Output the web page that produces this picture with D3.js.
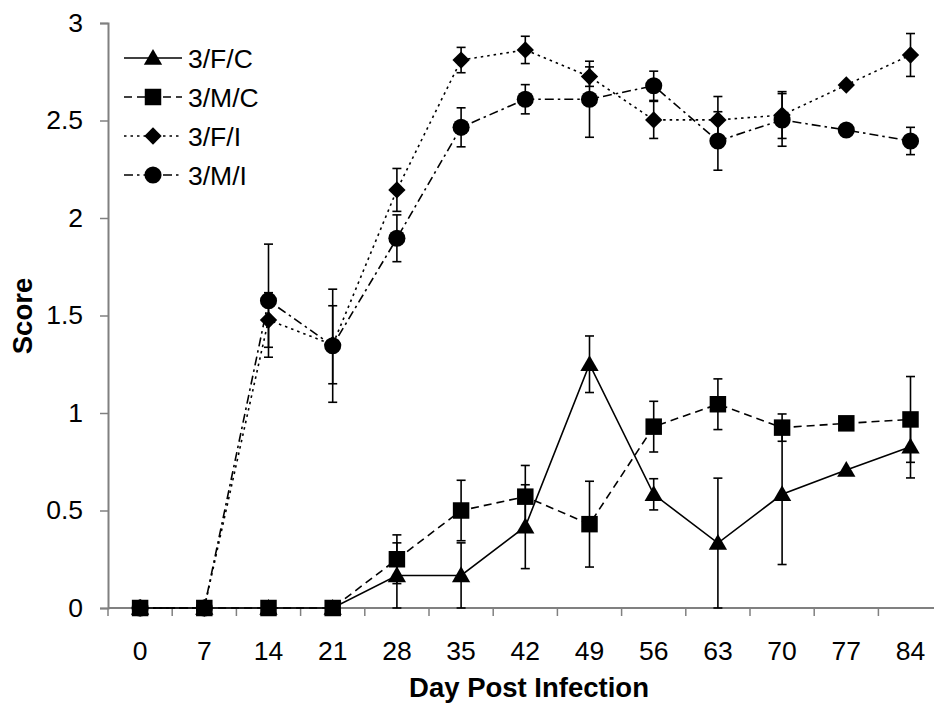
<!DOCTYPE html>
<html>
<head>
<meta charset="utf-8">
<script src="https://cdn.jsdelivr.net/npm/d3@7"></script>
<style>
  body { margin: 0; background: #fff; }
  svg { display: block; font-family: "Liberation Sans", Arial, sans-serif; }
</style>
</head>
<body>
<div id="runApp"></div>
<script>
const width = 934;
const height = 705;

// data
const days = [0, 7, 14, 21, 28, 35, 42, 49, 56, 63, 70, 77, 84];
const yTicks = [0, 0.5, 1, 1.5, 2, 2.5, 3];

const fcValues = [0, 0, 0, 0, 0.167, 0.167, 0.417, 1.25, 0.583, 0.333, 0.583, 0.708, 0.827];
const fcErrors = [0, 0, 0, 0, 0.167, 0.167, 0.215, 0.145, 0.08, 0.333, 0.36, 0, 0.16];

const mcValues = [0, 0, 0, 0, 0.25, 0.5, 0.571, 0.43, 0.93, 1.045, 0.925, 0.947, 0.967];
const mcErrors = [0, 0, 0, 0, 0.125, 0.155, 0.16, 0.22, 0.13, 0.13, 0.07, 0, 0.22];

const fiValues = [0, 0, 1.477, 1.35, 2.144, 2.81, 2.862, 2.725, 2.503, 2.503, 2.528, 2.682, 2.836];
const fiErrors = [0, 0, 0.14, 0.2, 0.11, 0.065, 0.07, 0.05, 0.095, 0.12, 0.12, 0, 0.11];

const miValues = [0, 0, 1.576, 1.345, 1.896, 2.465, 2.609, 2.609, 2.678, 2.395, 2.503, 2.451, 2.395];
const miErrors = [0, 0, 0.29, 0.29, 0.12, 0.1, 0.075, 0.195, 0.075, 0.15, 0.135, 0, 0.07];

const seriesNames = ["3/F/C", "3/M/C", "3/F/I", "3/M/I"];

const series = [
  { name: seriesNames[0], values: fcValues, errors: fcErrors, symbol: d3.symbolTriangle, size: 145, rotate: 0, dy: 1.5, dash: null },
  { name: seriesNames[1], values: mcValues, errors: mcErrors, symbol: d3.symbolSquare, size: 272, rotate: 0, dy: 0, dash: "8,5" },
  { name: seriesNames[2], values: fiValues, errors: fiErrors, symbol: d3.symbolSquare, size: 150, rotate: 45, dy: 0, dash: "2.5,4" },
  { name: seriesNames[3], values: miValues, errors: miErrors, symbol: d3.symbolCircle, size: 230, rotate: 0, dy: 0, dash: "9,4,2.5,4" },
];

// drawing order: M/C on top
const drawOrder = [2, 3, 0, 1];

const margin = { left: 108, top: 23, bottom: 608 };
const axisColor = "#808080";
const fontSize = 26.5;

const svg = d3
  .select("#runApp")
  .append("svg")
  .attr("width", width)
  .attr("height", height);

const x = d3
  .scaleBand()
  .domain(days)
  .range([margin.left, margin.left + 13 * 64.2]);

const y = d3.scaleLinear().domain([0, 3]).range([margin.bottom, margin.top]);

const cx = (d) => x(d) + x.bandwidth() / 2;

// y axis
const yAxis = svg
  .append("g")
  .attr("transform", `translate(${margin.left},0)`)
  .call(
    d3.axisLeft(y).tickValues(yTicks).tickSize(8).tickPadding(17).tickFormat(d3.format("~g"))
  );
yAxis.select(".domain").attr("stroke", axisColor).attr("stroke-width", 2);
yAxis.selectAll(".tick line").attr("stroke", axisColor).attr("stroke-width", 1.5);
yAxis.selectAll("text").attr("font-size", fontSize).attr("fill", "#000").attr("font-family", "Liberation Sans, Arial, sans-serif");

// x axis: labels at category centres, ticks at category boundaries
const xAxis = svg
  .append("g")
  .attr("transform", `translate(0,${margin.bottom})`)
  .call(d3.axisBottom(x).tickSize(0).tickPadding(33));
xAxis.select(".domain").remove();
xAxis.selectAll("text").attr("font-size", fontSize).attr("fill", "#000").attr("font-family", "Liberation Sans, Arial, sans-serif");

const boundaries = days.map((d) => x(d)).concat([x(days[days.length - 1]) + x.bandwidth()]);
svg
  .append("line")
  .attr("x1", margin.left)
  .attr("x2", boundaries[boundaries.length - 1])
  .attr("y1", margin.bottom)
  .attr("y2", margin.bottom)
  .attr("stroke", axisColor)
  .attr("stroke-width", 2);
svg
  .append("g")
  .selectAll("line")
  .data(boundaries)
  .join("line")
  .attr("x1", (d) => d)
  .attr("x2", (d) => d)
  .attr("y1", margin.bottom)
  .attr("y2", margin.bottom + 8)
  .attr("stroke", axisColor)
  .attr("stroke-width", 1.5);

// axis titles
svg
  .append("text")
  .attr("x", 529)
  .attr("y", 697)
  .attr("text-anchor", "middle")
  .attr("font-size", 27.5)
  .attr("font-weight", "bold")
  .text("Day Post Infection");

svg
  .append("text")
  .attr("transform", "translate(32,316) rotate(-90)")
  .attr("text-anchor", "middle")
  .attr("font-size", 27.5)
  .attr("font-weight", "bold")
  .text("Score");

const line = d3
  .line()
  .x((d) => cx(d.day))
  .y((d) => y(d.value));

const capHalf = 4.5;

drawOrder.forEach((i) => {
  const s = series[i];
  const pts = days.map((day, j) => ({ day, value: s.values[j], err: s.errors[j] }));
  const g = svg.append("g").attr("class", "series");

  // error bars
  const eb = g
    .selectAll("g.err")
    .data(pts.filter((p) => p.err > 0))
    .join("g")
    .attr("class", "err")
    .attr("stroke", "#000")
    .attr("stroke-width", 1.6);
  eb.append("line")
    .attr("x1", (d) => cx(d.day))
    .attr("x2", (d) => cx(d.day))
    .attr("y1", (d) => y(d.value - d.err))
    .attr("y2", (d) => y(d.value + d.err));
  eb.append("line")
    .attr("x1", (d) => cx(d.day) - capHalf)
    .attr("x2", (d) => cx(d.day) + capHalf)
    .attr("y1", (d) => y(d.value + d.err))
    .attr("y2", (d) => y(d.value + d.err));
  eb.append("line")
    .attr("x1", (d) => cx(d.day) - capHalf)
    .attr("x2", (d) => cx(d.day) + capHalf)
    .attr("y1", (d) => y(d.value - d.err))
    .attr("y2", (d) => y(d.value - d.err));

  // connecting line
  g.append("path")
    .datum(pts)
    .attr("d", line)
    .attr("fill", "none")
    .attr("stroke", "#000")
    .attr("stroke-width", 1.6)
    .attr("stroke-dasharray", s.dash);

  // markers
  g.selectAll("path.marker")
    .data(pts)
    .join("path")
    .attr("class", "marker")
    .attr("d", d3.symbol().type(s.symbol).size(s.size))
    .attr("transform", (d) =>
      `translate(${cx(d.day)},${y(d.value) + s.dy}) rotate(${s.rotate})`
    )
    .attr("fill", "#000");
});

// legend
const legend = svg.append("g").attr("class", "legend");
series.forEach((s, i) => {
  const ly = 58 + i * 39;
  const row = legend.append("g").attr("transform", `translate(0,${ly})`);
  row.append("line")
    .attr("x1", 124)
    .attr("x2", 182)
    .attr("stroke", "#000")
    .attr("stroke-width", 1.6)
    .attr("stroke-dasharray", s.dash);
  row.append("path")
    .attr("d", d3.symbol().type(s.symbol).size(s.size))
    .attr("transform", `translate(153,${s.dy}) rotate(${s.rotate})`)
    .attr("fill", "#000");
  row.append("text")
    .attr("x", 188)
    .attr("dy", "0.36em")
    .attr("font-size", fontSize)
    .text(s.name);
});
</script>
</body>
</html>
